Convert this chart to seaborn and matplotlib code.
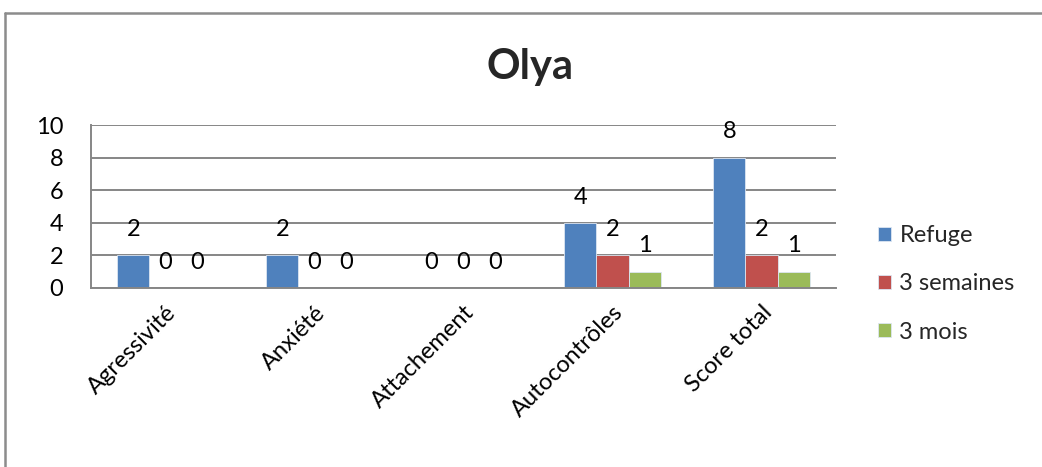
import matplotlib
matplotlib.use("Agg")
import matplotlib.pyplot as plt
import seaborn as sns
import pandas as pd
from matplotlib.lines import Line2D

categories = ["Agressivité", "Anxiété", "Attachement", "Autocontrôles", "Score total"]
series_names = ["Refuge", "3 semaines", "3 mois"]
refuge = [2, 2, 0, 4, 8]
semaines = [0, 0, 0, 2, 2]
mois = [0, 0, 0, 1, 1]
colors = ["#4F81BD", "#C0504D", "#9BBB59"]
title = "Olya"

rows = []
for name, vals in zip(series_names, [refuge, semaines, mois]):
    for c, v in zip(categories, vals):
        rows.append({"cat": c, "serie": name, "val": v})
df = pd.DataFrame(rows)

sns.set_theme(style="white")
plt.rcParams["font.family"] = ["Lato", "DejaVu Sans"]

FS = 17
fig = plt.figure(figsize=(10.42, 4.67), dpi=100)
ax = fig.add_axes([91/1042, 1-288/467, (836-91)/1042, (288-125)/467])

sns.barplot(data=df, x="cat", y="val", hue="serie", order=categories,
            hue_order=series_names, palette=colors, width=0.645, gap=0,
            ax=ax, errorbar=None, saturation=1, legend=True,
            edgecolor="#DCE6F2", linewidth=0.6)

for cont in ax.containers:
    ax.bar_label(cont, labels=[f"{int(v)}" for v in cont.datavalues],
                 padding=11, fontsize=FS, color="black")

ax.set_ylim(0, 10)
ax.set_yticks([0, 2, 4, 6, 8, 10])
ax.set_xlim(-0.5, 4.5)
ax.yaxis.grid(True, color="#868686", linewidth=1.4)
ax.set_axisbelow(True)
for s in ["top", "right"]:
    ax.spines[s].set_visible(False)
for s in ["left", "bottom"]:
    ax.spines[s].set_color("#868686")
    ax.spines[s].set_linewidth(1.4)
ax.tick_params(axis="both", length=0, labelsize=FS, colors="black")
ax.tick_params(axis="y", pad=20)
ax.set_xlabel("")
ax.set_ylabel("")
for lab in ax.get_xticklabels():
    lab.set_rotation(45)
    lab.set_ha("right")
    lab.set_rotation_mode("anchor")
ax.tick_params(axis="x", pad=10)

leg = ax.legend(loc="center left", bbox_to_anchor=(1.044, 0.025), frameon=False,
                fontsize=FS, handlelength=0.55, handleheight=0.55,
                handletextpad=0.35, labelspacing=1.15, borderaxespad=0)

fig.text(530/1042, 1-67/467, title, ha="center", va="center",
         fontsize=30, fontweight="bold")

fig.add_artist(Line2D([5/1042, 1], [1-13/467, 1-13/467], transform=fig.transFigure,
                      color="#8C8C8C", linewidth=1.8))
fig.add_artist(Line2D([5/1042, 5/1042], [0, 1-13/467], transform=fig.transFigure,
                      color="#8C8C8C", linewidth=1.8))

fig.savefig("out.png", dpi=100)
